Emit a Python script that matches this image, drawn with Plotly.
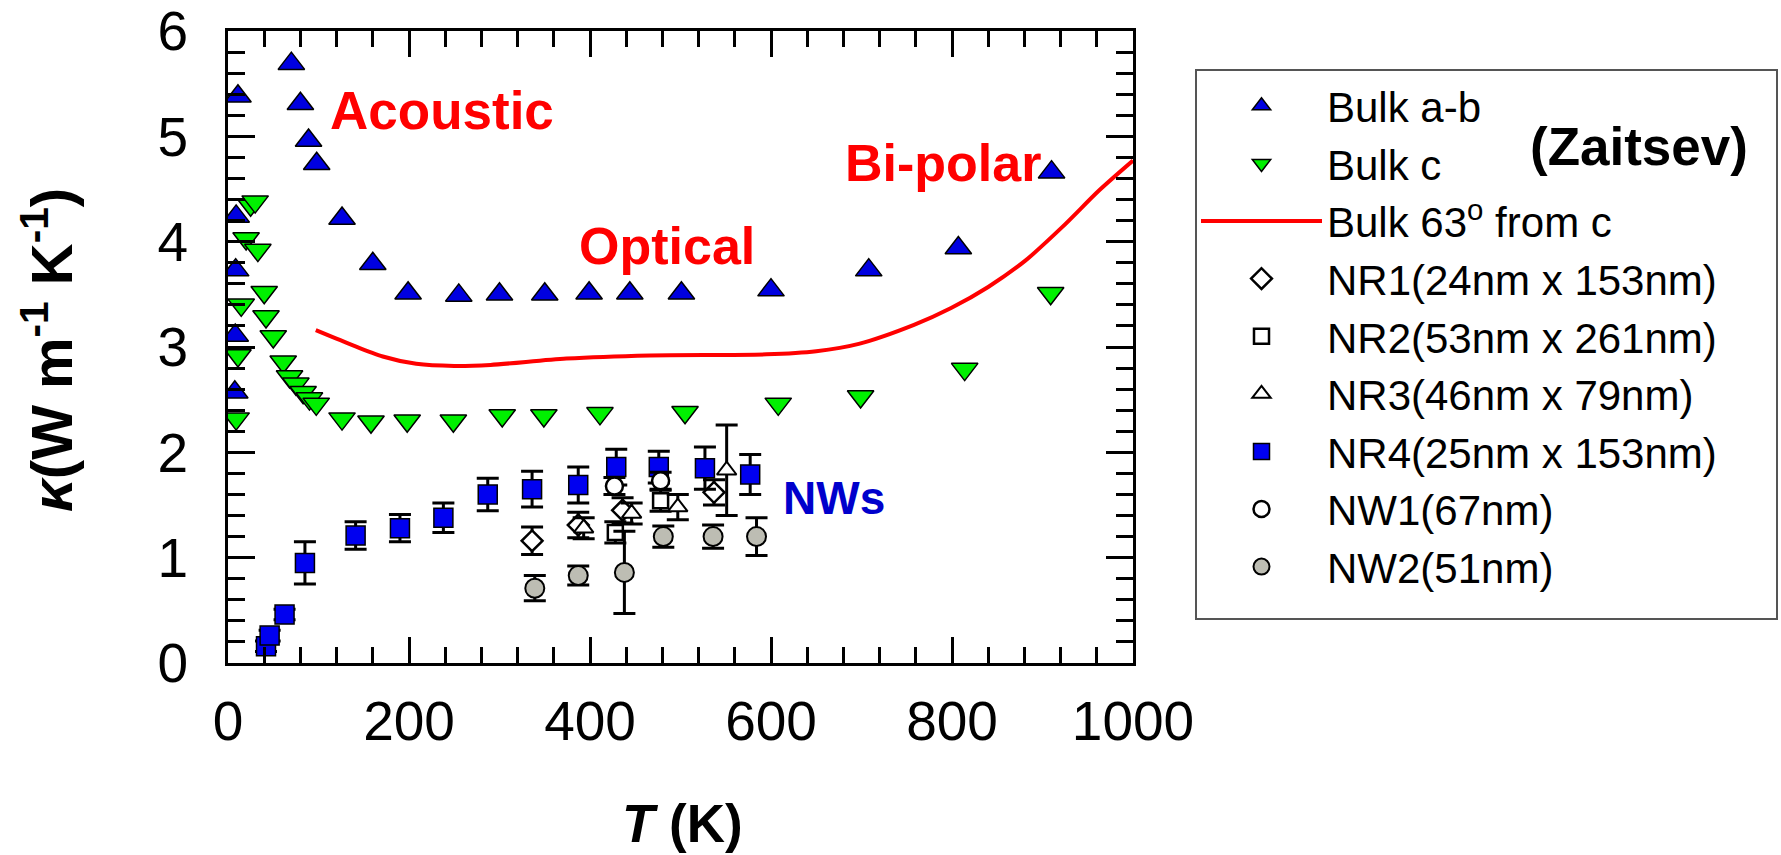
import plotly.graph_objects as go

# ---------------- data ----------------
bulk_ab_T = [7.5, 8, 8.5, 9, 11, 70, 80, 89, 98, 126, 160, 199, 255, 300, 350, 399, 444, 501, 600, 708, 807, 910]
bulk_ab_k = [2.57, 3.11, 3.73, 4.24, 5.38, 5.69, 5.31, 4.96, 4.74, 4.22, 3.79, 3.51, 3.49, 3.50, 3.50, 3.51, 3.51, 3.51, 3.54, 3.73, 3.94, 4.66]

bulk_c_T = [9, 11, 14.6, 20, 25, 30, 33, 40, 42, 50, 61, 68, 75, 83, 90, 97.5, 126, 158, 198, 249, 303, 349, 411, 505, 608, 699, 814, 909]
bulk_c_k = [2.32, 2.92, 3.40, 4.03, 4.35, 4.38, 3.92, 3.52, 3.29, 3.10, 2.86, 2.72, 2.65, 2.57, 2.51, 2.46, 2.32, 2.29, 2.30, 2.30, 2.35, 2.35, 2.37, 2.38, 2.46, 2.53, 2.79, 3.51]

bulk63_T = [97, 134, 171, 208, 250, 290, 374, 466, 595, 650, 697, 758, 799, 840, 881, 922, 963, 1000]
bulk63_k = [3.16, 3.03, 2.91, 2.84, 2.82, 2.83, 2.89, 2.92, 2.93, 2.96, 3.03, 3.21, 3.37, 3.57, 3.82, 4.14, 4.49, 4.77]

nr1_T = [336, 387, 436, 537]
nr1_k = [1.16, 1.31, 1.45, 1.62]
nr1_e = [0.13, 0.12, 0.12, 0.12]

nr2_T = [428, 478]
nr2_k = [1.24, 1.54]
nr2_e = [0.10, 0.10]

nr3_T = [393, 446, 497, 551]
nr3_k = [1.28, 1.42, 1.48, 1.83]
nr3_e = [0.10, 0.10, 0.12, 0.43]

nr4_T = [42, 46, 62.5, 85, 141, 190, 238, 287, 336, 387, 429, 476, 527, 577]
nr4_k = [0.16, 0.26, 0.46, 0.95, 1.21, 1.28, 1.38, 1.60, 1.65, 1.69, 1.86, 1.86, 1.85, 1.79]
nr4_e = [0.05, 0.05, 0.05, 0.20, 0.13, 0.13, 0.14, 0.155, 0.17, 0.17, 0.17, 0.15, 0.20, 0.19]

nw1_T = [427, 478]
nw1_k = [1.68, 1.73]
nw1_e = [0.08, 0.08]

nw2_T = [339, 387, 438, 481, 536, 584]
nw2_k = [0.71, 0.83, 0.86, 1.20, 1.20, 1.20]
nw2_e = [0.12, 0.09, 0.39, 0.10, 0.11, 0.18]

x_ticks = [0, 200, 400, 600, 800, 1000]
y_ticks = [0, 1, 2, 3, 4, 5, 6]

# ---------------- layout geometry ----------------
W, H = 1781, 855
ML, MR, MT, MB = 228, 648, 31, 192
PW, PH = W - ML - MR, H - MT - MB

def px(x):
    return (x - ML) / PW

def py(y):
    return (H - MB - y) / PH

FONT = "Liberation Sans, Arial, sans-serif"
OUT = dict(color="black", width=1.5)

def err(vals):
    return dict(type="data", array=vals, visible=True, color="black", thickness=3, width=11)

fig = go.Figure()
fig.add_trace(go.Scatter(x=bulk_ab_T, y=bulk_ab_k, mode="markers", name="Bulk a-b",
                         marker=dict(symbol="triangle-up", size=23, color="#0000E0", line=OUT)))
fig.add_trace(go.Scatter(x=bulk_c_T, y=bulk_c_k, mode="markers", name="Bulk c",
                         marker=dict(symbol="triangle-down", size=23, color="#00F000", line=OUT)))
fig.add_trace(go.Scatter(x=bulk63_T, y=bulk63_k, mode="lines", name="Bulk 63<sup>o</sup> from c",
                         line=dict(color="#FF0000", width=4, shape="spline", smoothing=0.8)))
fig.add_trace(go.Scatter(x=nr1_T, y=nr1_k, mode="markers", name="NR1(24nm x 153nm)", error_y=err(nr1_e),
                         marker=dict(symbol="diamond", size=16, color="white", line=dict(color="black", width=2.5))))
fig.add_trace(go.Scatter(x=nr2_T, y=nr2_k, mode="markers", name="NR2(53nm x 261nm)", error_y=err(nr2_e),
                         marker=dict(symbol="square", size=15, color="white", line=dict(color="black", width=2.5))))
fig.add_trace(go.Scatter(x=nr3_T, y=nr3_k, mode="markers", name="NR3(46nm x 79nm)", error_y=err(nr3_e),
                         marker=dict(symbol="triangle-up", size=17, color="white", line=dict(color="black", width=2))))
fig.add_trace(go.Scatter(x=nr4_T, y=nr4_k, mode="markers", name="NR4(25nm x 153nm)", error_y=err(nr4_e),
                         marker=dict(symbol="square", size=19, color="#0000F0", line=dict(color="black", width=1.5))))
fig.add_trace(go.Scatter(x=nw1_T, y=nw1_k, mode="markers", name="NW1(67nm)", error_y=err(nw1_e),
                         marker=dict(symbol="circle", size=17, color="white", line=dict(color="black", width=2.5))))
fig.add_trace(go.Scatter(x=nw2_T, y=nw2_k, mode="markers", name="NW2(51nm)", error_y=err(nw2_e),
                         marker=dict(symbol="circle", size=19, color="#BDBDB3", line=dict(color="black", width=2))))

ann = []
def label(text, x, y, size, color, angle=0):
    ann.append(dict(text=text, x=px(x), y=py(y), xref="paper", yref="paper", showarrow=False,
                    xanchor="center", yanchor="middle", textangle=angle,
                    font=dict(family=FONT, size=size, color=color)))

label("<b>Acoustic</b>", 442, 110, 53, "#FF0000")
label("<b>Optical</b>", 667, 246, 52, "#FF0000")
label("<b>Bi-polar</b>", 943, 163, 52, "#FF0000")
label("<b>NWs</b>", 834, 498, 46, "#0000CC")
label("<b>(Zaitsev)</b>", 1639, 146, 53, "black")
label("<b><i>T</i> (K)</b>", 682, 823, 53, "black")
label("<b><i>κ</i>(W m<sup>-1</sup> K<sup>-1</sup>)</b>", 47, 350, 58, "black", -90)

axis_common = dict(showline=True, linewidth=3, linecolor="black", mirror="allticks",
                   ticks="inside", tickwidth=3, tickcolor="black", showgrid=False, zeroline=False,
                   tickfont=dict(family=FONT, size=55, color="black"))

fig.update_layout(
    width=W, height=H, autosize=False,
    margin=dict(l=ML, r=MR, t=MT, b=MB, autoexpand=False),
    paper_bgcolor="white", plot_bgcolor="white",
    xaxis=dict(range=[0, 1000], tickvals=x_ticks, ticklen=26, ticklabelstandoff=8,
               minor=dict(dtick=40, tick0=0, ticks="inside", ticklen=16, tickwidth=3, tickcolor="black"),
               **axis_common),
    yaxis=dict(range=[0, 6], tickvals=y_ticks, ticklen=27, ticklabelstandoff=26,
               minor=dict(dtick=0.2, tick0=0, ticks="inside", ticklen=17, tickwidth=3, tickcolor="black"),
               **axis_common),
    showlegend=True,
    legend=dict(x=px(1196), y=py(72), xanchor="left", yanchor="top",
                bgcolor="rgba(0,0,0,0)", borderwidth=0,
                font=dict(family=FONT, size=42, color="black"), itemwidth=121,
                tracegroupgap=0),
    shapes=[dict(type="rect", xref="paper", yref="paper",
                 x0=px(1196), x1=px(1777), y0=py(619), y1=py(70),
                 line=dict(color="#555555", width=2), fillcolor="rgba(0,0,0,0)", layer="below")],
    annotations=ann,
)

fig.write_html("out.html")
